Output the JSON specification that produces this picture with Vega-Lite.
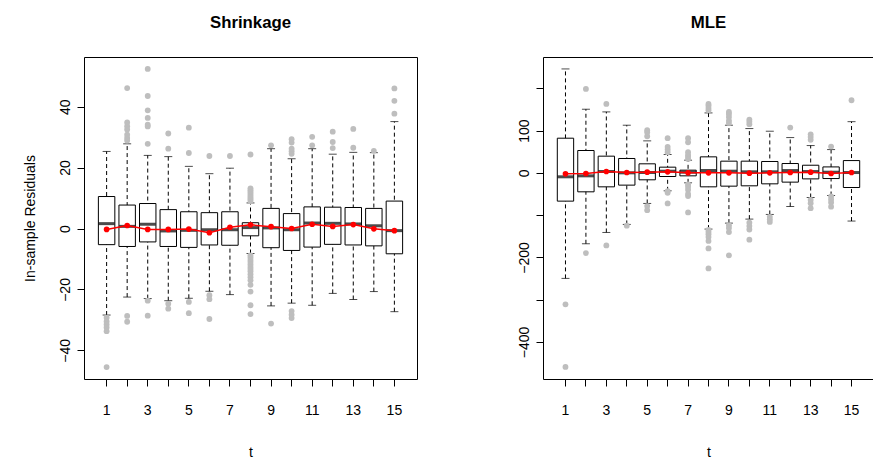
{
  "$schema": "https://vega.github.io/schema/vega-lite/v6.json",
  "padding": {"left": 22, "top": 14, "right": 0, "bottom": 0},
  "background": "white",
  "bounds": "flush",
  "spacing": 126,
  "config": {
    "font": "Liberation Sans",
    "view": {"stroke": "black", "strokeWidth": 1},
    "axis": {
      "domain": false,
      "grid": false,
      "tickColor": "black",
      "tickSize": 7,
      "labelColor": "black",
      "labelFontSize": 14,
      "labelFont": "Liberation Sans",
      "titleColor": "black",
      "titleFontSize": 14,
      "titleFont": "Liberation Sans",
      "titleFontWeight": "normal"
    },
    "title": {"font": "Liberation Sans", "fontSize": 16.8, "fontWeight": "bold", "color": "black"}
  },
  "datasets": {
    "sbox": [
      {"t": 1, "lo": -28.4, "q1": -5.3, "med": 1.6, "q3": 10.5, "hi": 25.3, "mean": -0.3},
      {"t": 2, "lo": -22.5, "q1": -5.9, "med": 0.7, "q3": 7.7, "hi": 27.8, "mean": 1.0},
      {"t": 3, "lo": -23.0, "q1": -4.4, "med": 1.4, "q3": 8.2, "hi": 24.0, "mean": -0.3},
      {"t": 4, "lo": -23.7, "q1": -5.9, "med": -0.8, "q3": 6.2, "hi": 23.6, "mean": -0.3},
      {"t": 5, "lo": -22.9, "q1": -6.2, "med": -0.6, "q3": 5.5, "hi": 20.4, "mean": -0.2},
      {"t": 6, "lo": -20.6, "q1": -5.4, "med": -0.4, "q3": 5.2, "hi": 18.0, "mean": -1.4},
      {"t": 7, "lo": -21.7, "q1": -5.5, "med": -0.4, "q3": 5.5, "hi": 19.8, "mean": 0.4},
      {"t": 8, "lo": -8.2, "q1": -2.4, "med": 0.3, "q3": 1.9, "hi": 8.4, "mean": 1.2},
      {"t": 9, "lo": -25.4, "q1": -6.3, "med": 0.2, "q3": 6.6, "hi": 26.2, "mean": 0.6},
      {"t": 10, "lo": -24.5, "q1": -7.2, "med": -0.4, "q3": 4.9, "hi": 22.9, "mean": 0.0},
      {"t": 11, "lo": -25.2, "q1": -6.1, "med": 1.8, "q3": 7.1, "hi": 26.2, "mean": 1.4},
      {"t": 12, "lo": -21.3, "q1": -5.2, "med": 1.7, "q3": 7.0, "hi": 24.4, "mean": 0.7},
      {"t": 13, "lo": -23.3, "q1": -5.4, "med": 1.5, "q3": 6.9, "hi": 25.0, "mean": 1.3},
      {"t": 14, "lo": -20.7, "q1": -5.7, "med": 0.9, "q3": 6.6, "hi": 24.9, "mean": -0.1},
      {"t": 15, "lo": -27.3, "q1": -8.3, "med": -0.7, "q3": 9.0, "hi": 35.1, "mean": -0.7}
    ],
    "sout": [
      {"t": 1, "v": -29.3}, {"t": 1, "v": -30.5}, {"t": 1, "v": -31.5}, {"t": 1, "v": -32.5}, {"t": 1, "v": -33.7}, {"t": 1, "v": -45.5},
      {"t": 2, "v": 46.1}, {"t": 2, "v": 34.8}, {"t": 2, "v": 33.6}, {"t": 2, "v": 32.5}, {"t": 2, "v": 30.8}, {"t": 2, "v": 29.7}, {"t": 2, "v": 28.9}, {"t": 2, "v": -28.7}, {"t": 2, "v": -30.6},
      {"t": 3, "v": 52.4}, {"t": 3, "v": 43.5}, {"t": 3, "v": 38.8}, {"t": 3, "v": 36.3}, {"t": 3, "v": 34.1}, {"t": 3, "v": 33.5}, {"t": 3, "v": 27.8}, {"t": 3, "v": -23.7}, {"t": 3, "v": -28.6},
      {"t": 4, "v": 31.2}, {"t": 4, "v": 26.2}, {"t": 4, "v": -24.7}, {"t": 4, "v": -26.3},
      {"t": 5, "v": 33.1}, {"t": 5, "v": 24.8}, {"t": 5, "v": -24.1}, {"t": 5, "v": -27.8},
      {"t": 6, "v": 23.8}, {"t": 6, "v": -21.9}, {"t": 6, "v": -23.2}, {"t": 6, "v": -29.7},
      {"t": 7, "v": 23.8},
      {"t": 8, "v": 24.3}, {"t": 8, "v": 13.2}, {"t": 8, "v": 12.6}, {"t": 8, "v": 12.0}, {"t": 8, "v": 11.4}, {"t": 8, "v": 10.8}, {"t": 8, "v": 10.2}, {"t": 8, "v": 9.6}, {"t": 8, "v": 9.0},
      {"t": 8, "v": -8.8}, {"t": 8, "v": -9.5}, {"t": 8, "v": -10.3}, {"t": 8, "v": -11.0}, {"t": 8, "v": -11.8}, {"t": 8, "v": -12.6}, {"t": 8, "v": -13.3}, {"t": 8, "v": -14.0}, {"t": 8, "v": -15.0}, {"t": 8, "v": -16.0}, {"t": 8, "v": -17.0}, {"t": 8, "v": -18.5}, {"t": 8, "v": -20.7}, {"t": 8, "v": -25.2}, {"t": 8, "v": -28.1},
      {"t": 9, "v": 27.3}, {"t": 9, "v": -31.2},
      {"t": 10, "v": 29.3}, {"t": 10, "v": 28.2}, {"t": 10, "v": 26.2}, {"t": 10, "v": 25.4}, {"t": 10, "v": 24.5}, {"t": 10, "v": -27.1}, {"t": 10, "v": -28.3}, {"t": 10, "v": -29.4},
      {"t": 11, "v": 30.1}, {"t": 11, "v": 27.3},
      {"t": 12, "v": 31.8}, {"t": 12, "v": 28.4}, {"t": 12, "v": 26.4},
      {"t": 13, "v": 32.7}, {"t": 13, "v": 26.5},
      {"t": 14, "v": 25.5},
      {"t": 15, "v": 46.0}, {"t": 15, "v": 41.9}, {"t": 15, "v": 37.7}
    ],
    "mbox": [
      {"t": 1, "lo": -249.6, "q1": -66.9, "med": -9.4, "q3": 81.9, "hi": 245.7, "mean": -2.4},
      {"t": 2, "lo": -167.7, "q1": -44.9, "med": -7.1, "q3": 52.8, "hi": 150.4, "mean": -1.6},
      {"t": 3, "lo": -141.0, "q1": -33.1, "med": 3.1, "q3": 39.4, "hi": 144.1, "mean": 3.1},
      {"t": 4, "lo": -122.0, "q1": -29.1, "med": 0.0, "q3": 33.9, "hi": 112.6, "mean": 0.8},
      {"t": 5, "lo": -72.4, "q1": -16.5, "med": 0.8, "q3": 21.3, "hi": 75.6, "mean": 1.6},
      {"t": 6, "lo": -42.5, "q1": -8.7, "med": 3.9, "q3": 13.4, "hi": 43.3, "mean": 2.4},
      {"t": 7, "lo": -23.6, "q1": -7.1, "med": 1.6, "q3": 6.3, "hi": 29.9, "mean": 0.0},
      {"t": 8, "lo": -133.0, "q1": -33.1, "med": 5.5, "q3": 37.8, "hi": 141.7, "mean": 0.0},
      {"t": 9, "lo": -118.9, "q1": -31.5, "med": 3.9, "q3": 27.6, "hi": 112.6, "mean": 0.0},
      {"t": 10, "lo": -109.4, "q1": -30.7, "med": 2.4, "q3": 27.6, "hi": 104.7, "mean": -0.8},
      {"t": 11, "lo": -98.4, "q1": -26.0, "med": 2.4, "q3": 26.8, "hi": 98.4, "mean": 0.0},
      {"t": 12, "lo": -79.6, "q1": -22.0, "med": 5.4, "q3": 22.0, "hi": 83.4, "mean": 0.8},
      {"t": 13, "lo": -58.3, "q1": -14.3, "med": 3.0, "q3": 18.0, "hi": 64.5, "mean": 1.5},
      {"t": 14, "lo": -53.6, "q1": -13.5, "med": 1.5, "q3": 14.0, "hi": 55.0, "mean": -1.6},
      {"t": 15, "lo": -114.0, "q1": -34.7, "med": 0.7, "q3": 29.0, "hi": 121.0, "mean": 0.7}
    ],
    "mout": [
      {"t": 1, "v": -311}, {"t": 1, "v": -459},
      {"t": 2, "v": 198.4}, {"t": 2, "v": -189.8},
      {"t": 3, "v": 163}, {"t": 3, "v": -171.7},
      {"t": 4, "v": -125},
      {"t": 5, "v": 100.8}, {"t": 5, "v": 96}, {"t": 5, "v": 86.6}, {"t": 5, "v": -78.7}, {"t": 5, "v": -88.2},
      {"t": 6, "v": 81.9}, {"t": 6, "v": 61.4}, {"t": 6, "v": 55.1}, {"t": 6, "v": 48.8}, {"t": 6, "v": -43.3}, {"t": 6, "v": -47}, {"t": 6, "v": -72.4},
      {"t": 7, "v": 81.9}, {"t": 7, "v": 72.4}, {"t": 7, "v": 48.8}, {"t": 7, "v": 42}, {"t": 7, "v": 38}, {"t": 7, "v": 33}, {"t": 7, "v": -27.6}, {"t": 7, "v": -33}, {"t": 7, "v": -40}, {"t": 7, "v": -50}, {"t": 7, "v": -55}, {"t": 7, "v": -93.7},
      {"t": 8, "v": 163}, {"t": 8, "v": 159}, {"t": 8, "v": 153.5}, {"t": 8, "v": 148}, {"t": 8, "v": -135}, {"t": 8, "v": -140}, {"t": 8, "v": -145}, {"t": 8, "v": -152}, {"t": 8, "v": -161}, {"t": 8, "v": -178.7}, {"t": 8, "v": -226},
      {"t": 9, "v": 144}, {"t": 9, "v": 139}, {"t": 9, "v": 132}, {"t": 9, "v": 123.6}, {"t": 9, "v": 118}, {"t": 9, "v": -124}, {"t": 9, "v": -130.7}, {"t": 9, "v": -140}, {"t": 9, "v": -195},
      {"t": 10, "v": 126}, {"t": 10, "v": 121}, {"t": 10, "v": 115}, {"t": 10, "v": -118}, {"t": 10, "v": -126}, {"t": 10, "v": -134}, {"t": 10, "v": -158},
      {"t": 11, "v": -104}, {"t": 11, "v": -110}, {"t": 11, "v": -116},
      {"t": 12, "v": 107},
      {"t": 13, "v": 91}, {"t": 13, "v": 85}, {"t": 13, "v": 78}, {"t": 13, "v": -64}, {"t": 13, "v": -72}, {"t": 13, "v": -83.5},
      {"t": 14, "v": 62}, {"t": 14, "v": -56}, {"t": 14, "v": -63}, {"t": 14, "v": -70}, {"t": 14, "v": -80},
      {"t": 15, "v": 171.6}
    ]
  },
  "hconcat": [
    {
      "width": 333,
      "height": 322,
      "title": {"text": "Shrinkage", "offset": 12, "baseline": "alphabetic", "anchor": "middle", "frame": "group"},
      "encoding": {
        "x": {"field": "t", "type": "ordinal", "scale": {"paddingInner": 0.2, "paddingOuter": 0.7},
          "axis": {"title": "t", "labelAngle": 0, "labelPadding": 17, "labelBaseline": "top", "titlePadding": 28, "labelExpr": "datum.value % 2 == 1 ? datum.label : ''"}}
      },
      "layer": [
        {"data": {"name": "sbox"}, "mark": {"type": "rule", "color": "black", "strokeWidth": 1, "strokeDash": [4, 3]},
          "encoding": {"y": {"field": "lo", "type": "quantitative", "scale": {"domain": [-49.4, 56.3], "nice": false, "zero": false},
            "axis": {"title": "In-sample Residuals", "values": [-40, -20, 0, 20, 40], "labelAngle": -90, "labelAlign": "center", "labelBaseline": "alphabetic", "labelPadding": 8, "titleAngle": -90, "titleBaseline": "alphabetic", "titleAlign": "center", "titleX": -50, "titleY": 161}},
            "y2": {"field": "hi"}}},
        {"data": {"name": "sbox"}, "mark": {"type": "bar", "fill": "white", "stroke": "black", "strokeWidth": 1},
          "encoding": {"y": {"field": "q1", "type": "quantitative"}, "y2": {"field": "q3"}}},
        {"data": {"name": "sbox"}, "mark": {"type": "tick", "orient": "horizontal", "color": "black", "thickness": 3, "size": 16},
          "encoding": {"y": {"field": "med", "type": "quantitative"}}},
        {"data": {"name": "sbox"}, "mark": {"type": "tick", "orient": "horizontal", "color": "black", "thickness": 1, "size": 8},
          "encoding": {"y": {"field": "lo", "type": "quantitative"}}},
        {"data": {"name": "sbox"}, "mark": {"type": "tick", "orient": "horizontal", "color": "black", "thickness": 1, "size": 8},
          "encoding": {"y": {"field": "hi", "type": "quantitative"}}},
        {"data": {"name": "sout"}, "mark": {"type": "point", "filled": true, "color": "#BEBEBE", "opacity": 1, "size": 34},
          "encoding": {"y": {"field": "v", "type": "quantitative"}}},
        {"data": {"name": "sbox"}, "mark": {"type": "line", "color": "red", "strokeWidth": 1.5},
          "encoding": {"y": {"field": "mean", "type": "quantitative"}}},
        {"data": {"name": "sbox"}, "mark": {"type": "point", "filled": true, "color": "red", "opacity": 1, "size": 32},
          "encoding": {"y": {"field": "mean", "type": "quantitative"}}}
      ]
    },
    {
      "width": 331,
      "height": 322,
      "title": {"text": "MLE", "offset": 12, "baseline": "alphabetic", "anchor": "middle", "frame": "group"},
      "encoding": {
        "x": {"field": "t", "type": "ordinal", "scale": {"paddingInner": 0.2, "paddingOuter": 0.7},
          "axis": {"title": "t", "labelAngle": 0, "labelPadding": 17, "labelBaseline": "top", "titlePadding": 28, "labelExpr": "datum.value % 2 == 1 ? datum.label : ''"}}
      },
      "layer": [
        {"data": {"name": "mbox"}, "mark": {"type": "rule", "color": "black", "strokeWidth": 1, "strokeDash": [4, 3]},
          "encoding": {"y": {"field": "lo", "type": "quantitative", "scale": {"domain": [-487.5, 273.9], "nice": false, "zero": false},
            "axis": {"title": null, "values": [-400, -300, -200, -100, 0, 100, 200], "labelExpr": "indexof([100, 0, -200, -400], datum.value) >= 0 ? datum.label : ''", "labelAngle": -90, "labelAlign": "center", "labelBaseline": "alphabetic", "labelPadding": 8}},
            "y2": {"field": "hi"}}},
        {"data": {"name": "mbox"}, "mark": {"type": "bar", "fill": "white", "stroke": "black", "strokeWidth": 1},
          "encoding": {"y": {"field": "q1", "type": "quantitative"}, "y2": {"field": "q3"}}},
        {"data": {"name": "mbox"}, "mark": {"type": "tick", "orient": "horizontal", "color": "black", "thickness": 3, "size": 16},
          "encoding": {"y": {"field": "med", "type": "quantitative"}}},
        {"data": {"name": "mbox"}, "mark": {"type": "tick", "orient": "horizontal", "color": "black", "thickness": 1, "size": 8},
          "encoding": {"y": {"field": "lo", "type": "quantitative"}}},
        {"data": {"name": "mbox"}, "mark": {"type": "tick", "orient": "horizontal", "color": "black", "thickness": 1, "size": 8},
          "encoding": {"y": {"field": "hi", "type": "quantitative"}}},
        {"data": {"name": "mout"}, "mark": {"type": "point", "filled": true, "color": "#BEBEBE", "opacity": 1, "size": 34},
          "encoding": {"y": {"field": "v", "type": "quantitative"}}},
        {"data": {"name": "mbox"}, "mark": {"type": "line", "color": "red", "strokeWidth": 1.5},
          "encoding": {"y": {"field": "mean", "type": "quantitative"}}},
        {"data": {"name": "mbox"}, "mark": {"type": "point", "filled": true, "color": "red", "opacity": 1, "size": 32},
          "encoding": {"y": {"field": "mean", "type": "quantitative"}}}
      ]
    }
  ]
}
